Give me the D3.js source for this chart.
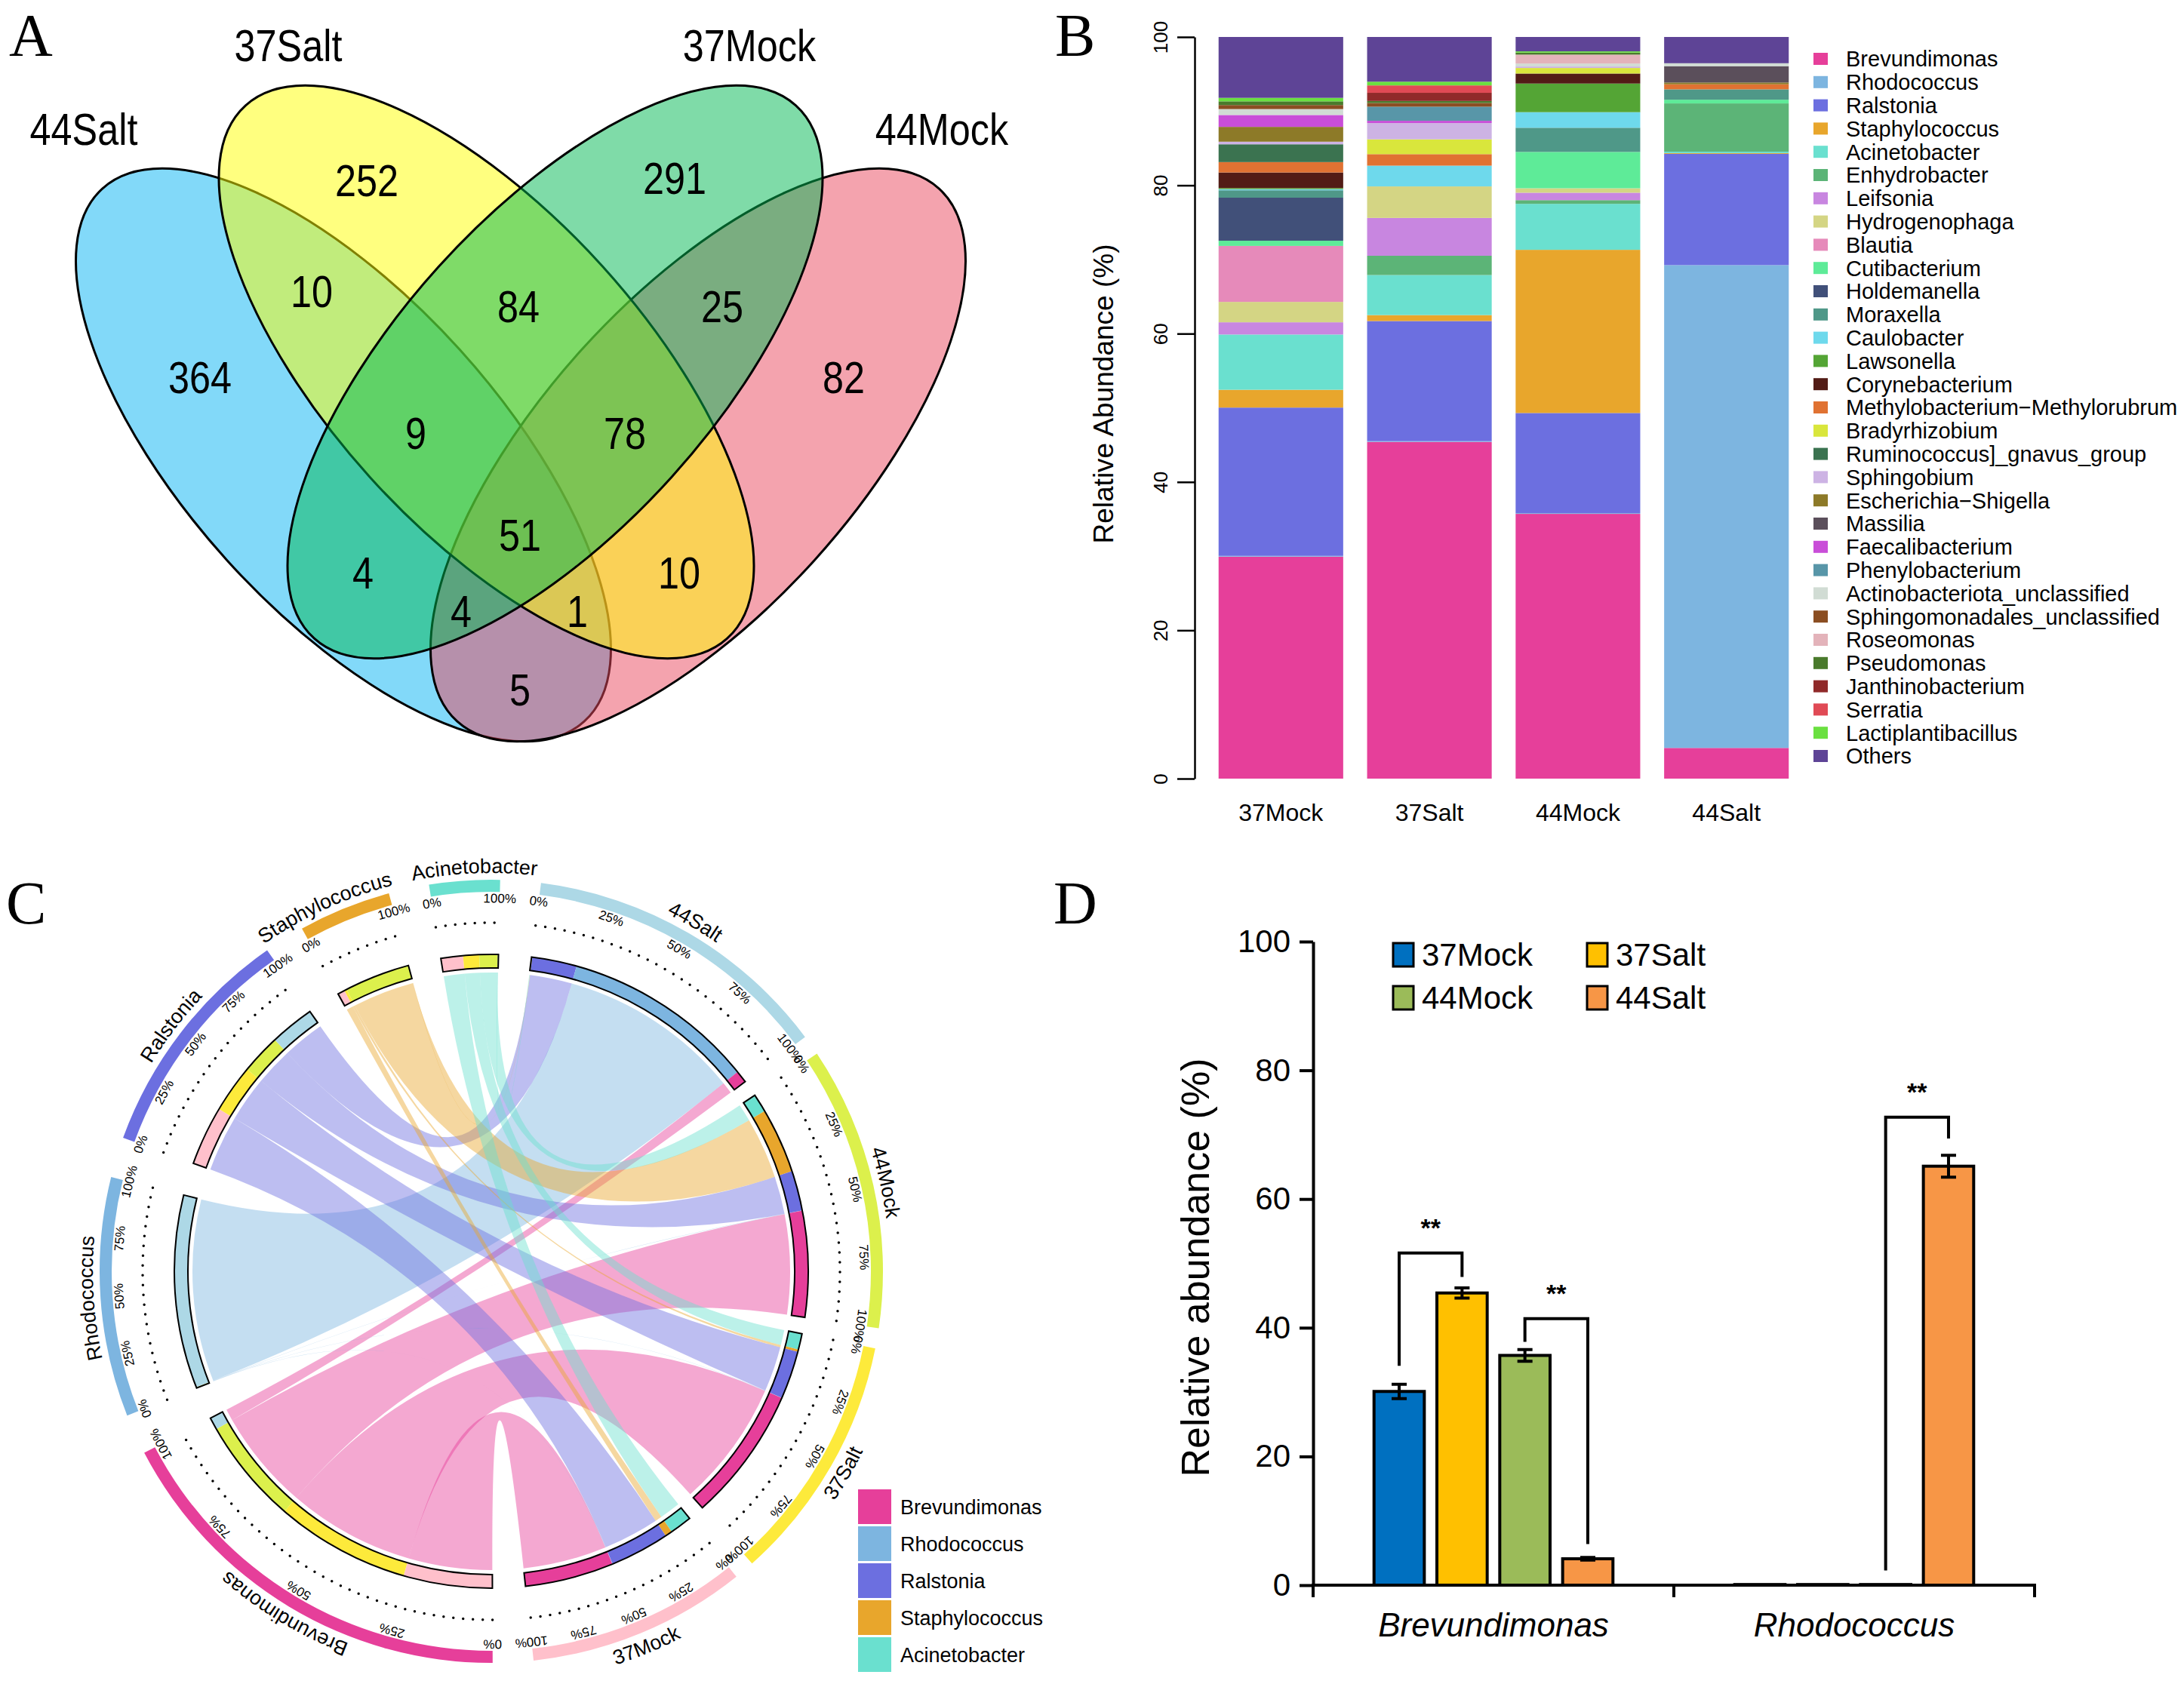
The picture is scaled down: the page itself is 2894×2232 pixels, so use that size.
<!DOCTYPE html>
<html>
<head>
<meta charset="utf-8">
<script src="https://cdn.jsdelivr.net/npm/d3@7"></script>
<style>
  body { margin: 0; background: #fff; }
  svg text { font-family: "Liberation Sans", Arial, Helvetica, sans-serif; fill: #000; }
  .plabel { font-family: "Liberation Serif", "Times New Roman", serif; font-size: 80px; }
</style>
</head>
<body>
<svg id="fig" width="2894" height="2232" viewBox="0 0 2894 2232"></svg>
<script>
// ---------- data ----------
// A: OTU venn
var vennSets = ["44Salt", "37Salt", "37Mock", "44Mock"];
var vennCounts = [252, 291, 10, 84, 25, 364, 82, 9, 78, 51, 4, 10, 4, 1, 5];

// B: relative abundance (%) per genus, bottom -> top
var samples = ["37Mock", "37Salt", "44Mock", "44Salt"];
var genera = ["Brevundimonas", "Rhodococcus", "Ralstonia", "Staphylococcus", "Acinetobacter",
  "Enhydrobacter", "Leifsonia", "Hydrogenophaga", "Blautia", "Cutibacterium", "Holdemanella",
  "Moraxella", "Caulobacter", "Lawsonella", "Corynebacterium", "Methylobacterium\u2212Methylorubrum",
  "Bradyrhizobium", "Ruminococcus]_gnavus_group", "Sphingobium", "Escherichia\u2212Shigella",
  "Massilia", "Faecalibacterium", "Phenylobacterium", "Actinobacteriota_unclassified",
  "Sphingomonadales_unclassified", "Roseomonas", "Pseudomonas", "Janthinobacterium",
  "Serratia", "Lactiplantibacillus", "Others"];
var generaColors = ["#e63f9a", "#7db5e0", "#6c6fe0", "#e8a62c", "#6ae0cf",
  "#5cb477", "#c886e0", "#d4d584", "#e68aba", "#5eeb98", "#415079",
  "#4f9888", "#6ed9ec", "#54a535", "#521c16", "#e07232",
  "#d9e63c", "#3b7350", "#cdb3e4", "#8d7a28",
  "#5b4f5b", "#c94ed8", "#5896a8", "#d1dcd4",
  "#8b4e22", "#e3b3ba", "#4a7a2c", "#902a2a",
  "#e04a55", "#6ae040", "#5e4496"];
var abund37Mock = [29.93, 0.1, 20.0, 2.4, 7.45, 0, 1.65, 2.75, 7.55, 0.7, 5.8, 1.0, 0.15, 0.15, 2.1, 1.4,
  0, 2.4, 0.35, 2.0, 0, 1.6, 0, 0.8, 0.54, 0, 0.5, 0, 0, 0.47, 8.21];
var abund37Salt = [45.4, 0.1, 16.2, 0.8, 5.4, 2.6, 5.1, 4.25, 0, 0, 0, 0, 2.8, 0, 0, 1.55,
  2.0, 0, 2.2, 0, 0, 0.3, 1.9, 0, 0.5, 0, 0.27, 1.1, 1.0, 0.5, 6.03];
var abund44Mock = [35.7, 0.1, 13.5, 22.0, 6.2, 0.5, 1.0, 0.6, 0, 4.9, 0, 3.26, 2.1, 3.86, 1.35, 0,
  0.75, 0, 0.2, 0, 0, 0, 0, 0.4, 0, 1.2, 0.27, 0, 0, 0.17, 1.94];
var abund44Salt = [4.14, 65.1, 15.0, 0.1, 0.2, 6.5, 0, 0, 0, 0.5, 0, 1.4, 0, 0, 0, 0.68,
  0, 0, 0, 0.24, 2.2, 0, 0, 0.4, 0, 0, 0, 0, 0, 0, 3.54];
var abundBySample = [abund37Mock, abund37Salt, abund44Mock, abund44Salt];

// C: chord between samples and top-5 genera
var chordSamples = ["44Salt", "44Mock", "37Salt", "37Mock"];
var chordSampleColors = ["#add8e6", "#dcf04c", "#fdea3b", "#ffc0cb"];
var chordGenera = genera.slice(0, 5);
var percentTicks = ["0%", "25%", "50%", "75%", "100%"];

// D: mean relative abundance with error
var dGenera = ["Brevundimonas", "Rhodococcus"];
var dColors = ["#0070c0", "#ffc000", "#9bbb59", "#f79646"];
var brevMean = [30.1, 45.4, 35.7, 4.1];
var brevErr = [1.1, 0.8, 0.9, 0.2];
var rhodMean = [0.1, 0.1, 0.1, 65.1];
var rhodErr = [0, 0, 0, 1.7];
var sigGroup = [0, 0, 1];
var sigFrom = [0, 2, 2];
var sigTo = [1, 3, 3];
var sigTop = [51.6, 41.4, 72.7];
var sigFromEnd = [34.1, 37.8, 2.3];
var sigToEnd = [47.9, 6.4, 69.4];

var svg = d3.select("#fig");
svg.append("rect").attr("width", 2894).attr("height", 2232).attr("fill", "#fff");

// panel letters
[["A", 12, 74], ["B", 1398, 74], ["C", 8, 1224], ["D", 1396, 1224]].forEach(function (p) {
  svg.append("text").attr("class", "plabel").attr("x", p[1]).attr("y", p[2]).text(p[0]);
});

// ---------- A: venn ----------
var gA = svg.append("g");
var xV = d3.scaleLinear().domain([-60, 60]).range([90, 1290]);
var yV = d3.scaleLinear().domain([-45, 45]).range([100, 1000]);
var kV = xV(1) - xV(0);
var vennEllipses = [
  {cx: -23.5, cy: 5.3, a: 47.6, b: 20.8, rot: 47.9, fill: "#05b3f3"},   // 44Salt
  {cx: 23.5, cy: 5.3, a: 47.6, b: 20.8, rot: -47.9, fill: "#e9475d"},   // 44Mock
  {cx: -4.55, cy: -5.7, a: 47.6, b: 20.8, rot: 47.9, fill: "#ffff00"},  // 37Salt
  {cx: 4.55, cy: -5.7, a: 47.6, b: 20.8, rot: -47.9, fill: "#00b751"}   // 37Mock
];
vennEllipses.forEach(function (e) {
  var px = xV(e.cx), py = yV(e.cy);
  gA.append("ellipse")
    .attr("cx", px).attr("cy", py)
    .attr("rx", e.a * kV).attr("ry", e.b * kV)
    .attr("transform", "rotate(" + e.rot + " " + px + " " + py + ")")
    .attr("fill", e.fill).attr("fill-opacity", 0.5)
    .attr("stroke", "#000").attr("stroke-width", 3);
});
// condensed text, like the original's narrow face
function narrowText(g, x, y, s, size) {
  g.append("text")
    .attr("transform", "translate(" + x + "," + y + ") scale(0.84,1)")
    .attr("dy", "0.36em").attr("text-anchor", "middle")
    .style("font-size", size + "px").text(s);
}
var vennSetPos = [[-57.9, -38], [-30.8, -49.1], [30.3, -49.1], [55.8, -38]];
vennSets.forEach(function (s, i) {
  narrowText(gA, xV(vennSetPos[i][0]), yV(vennSetPos[i][1]), s, 60);
});
var vennCountPos = [[-20.4, -31.2], [20.4, -31.5], [-27.7, -16.5], [-0.3, -14.5], [26.7, -14.5],
  [-42.5, -5.1], [42.8, -5.1], [-13.9, 2.3], [13.8, 2.3], [-0.1, 15.8], [-20.9, 20.8],
  [21, 20.8], [-7.9, 25.9], [7.5, 25.9], [-0.1, 36.3]];
vennCounts.forEach(function (c, i) {
  narrowText(gA, xV(vennCountPos[i][0]), yV(vennCountPos[i][1]), c, 60);
});

// ---------- B: stacked bars ----------
var gB = svg.append("g");
var xB = d3.scaleBand().domain(samples).range([1599, 2386]).paddingInner(0.161).paddingOuter(0.08);
var yB = d3.scaleLinear().domain([0, 100]).range([1032, 49]);
var tableB = samples.map(function (s, i) {
  var row = {sample: s};
  genera.forEach(function (g, j) { row[g] = abundBySample[i][j]; });
  return row;
});
var stackB = d3.stack().keys(genera)(tableB);
gB.selectAll("g.layer")
  .data(stackB)
  .enter().append("g")
    .attr("fill", function (d, i) { return generaColors[i]; })
  .selectAll("rect")
  .data(function (d) { return d; })
  .enter().append("rect")
    .attr("x", function (d) { return xB(d.data.sample); })
    .attr("y", function (d) { return yB(d[1]); })
    .attr("width", xB.bandwidth())
    .attr("height", function (d) { return Math.max(0, yB(d[0]) - yB(d[1])); });

var axB = gB.append("g").attr("transform", "translate(1583,0)")
  .call(d3.axisLeft(yB).tickValues([0, 20, 40, 60, 80, 100]).tickSize(23).tickSizeOuter(0));
axB.select(".domain").attr("stroke-width", 2.5);
axB.selectAll(".tick line").attr("stroke-width", 2.5);
axB.selectAll(".tick text")
  .attr("x", null).attr("dy", null)
  .attr("transform", "translate(-45,0) rotate(-90)")
  .attr("text-anchor", "middle").attr("dominant-baseline", "central")
  .style("font-size", "26px").style("font-family", "Liberation Sans, Arial, sans-serif");

samples.forEach(function (s) {
  gB.append("text").attr("x", xB(s) + xB.bandwidth() / 2).attr("y", 1088)
    .attr("text-anchor", "middle").style("font-size", "32px").text(s);
});
gB.append("text").attr("transform", "translate(1462,522) rotate(-90)")
  .attr("text-anchor", "middle").attr("dominant-baseline", "central")
  .style("font-size", "37px").text("Relative Abundance (%)");

var legB = gB.append("g");
genera.forEach(function (g, i) {
  var yy = 78 + i * 30.8;
  legB.append("rect").attr("x", 2403).attr("y", yy - 8).attr("width", 19).attr("height", 16)
    .attr("fill", generaColors[i]);
  legB.append("text").attr("x", 2446).attr("y", yy).attr("dy", "0.36em")
    .style("font-size", "29px").text(g);
});

// ---------- C: chord ----------
var gC = svg.append("g").attr("transform", "translate(651,1685)");
var defs = svg.append("defs");
function abund(sample, genus) {
  return abundBySample[samples.indexOf(sample)][genera.indexOf(genus)];
}
var rad = Math.PI / 180;
var sectorNames = chordSamples.concat(chordGenera);
var sectorColors = chordSampleColors.concat(generaColors.slice(0, 5));
var sectorPartners = sectorNames.map(function (n, i) {
  return i < 4 ? chordGenera.slice().reverse() : chordSamples.slice().reverse();
});
var sectorTotals = sectorNames.map(function (n, i) {
  return d3.sum(sectorPartners[i], function (p) { return i < 4 ? abund(n, p) : abund(p, n); });
});
var gapDeg = [3, 3, 3, 6, 6, 6, 6, 6, 6];
var nameShift = [0, 0, 0, 0, 0, 0, 0, -2.5, 1.5];   // keep the two short sector names apart
var unitDeg = (360 - d3.sum(gapDeg)) / d3.sum(sectorTotals);
var sectors = [];
var linkPos = {};
var cur = 7.3;
sectorNames.forEach(function (n, i) {
  var a0 = cur, a1 = cur + sectorTotals[i] * unitDeg;
  sectors.push({name: n, a0: a0 * rad, a1: a1 * rad, color: sectorColors[i], idx: i});
  linkPos[n] = {};
  var c = a0;
  sectorPartners[i].forEach(function (p) {
    var v = i < 4 ? abund(n, p) : abund(p, n);
    linkPos[n][p] = {a0: c * rad, a1: (c + v * unitDeg) * rad,
      color: i < 4 ? generaColors[genera.indexOf(p)] : chordSampleColors[chordSamples.indexOf(p)]};
    c += v * unitDeg;
  });
  cur = a1 + gapDeg[i];
});

// links
var ribbon = d3.ribbon().radius(396);
chordSamples.forEach(function (s) {
  chordGenera.forEach(function (g) {
    var sp = linkPos[s][g], tp = linkPos[g][s];
    gC.append("path")
      .attr("d", ribbon({source: {startAngle: sp.a0, endAngle: sp.a1},
                         target: {startAngle: tp.a0, endAngle: tp.a1}}))
      .attr("fill", generaColors[genera.indexOf(g)]).attr("fill-opacity", 0.45);
  });
});

// inner composition bars
var barArc = d3.arc().innerRadius(402).outerRadius(420);
sectors.forEach(function (sec) {
  sectorPartners[sec.idx].forEach(function (p) {
    var lp = linkPos[sec.name][p];
    if (lp.a1 - lp.a0 <= 0) return;
    gC.append("path").attr("d", barArc({startAngle: lp.a0, endAngle: lp.a1})).attr("fill", lp.color);
  });
  gC.append("path").attr("d", barArc({startAngle: sec.a0, endAngle: sec.a1}))
    .attr("fill", "none").attr("stroke", "#000").attr("stroke-width", 2);
});

// outer tracks, dotted guides, percent labels, names
var trackArc = d3.arc().innerRadius(503).outerRadius(519);
function arcPath(r, a0, a1, ccw) {
  var x0 = r * Math.sin(a0), y0 = -r * Math.cos(a0);
  var x1 = r * Math.sin(a1), y1 = -r * Math.cos(a1);
  var large = (a1 - a0) > Math.PI ? 1 : 0;
  if (ccw) return "M" + x1 + "," + y1 + "A" + r + "," + r + " 0 " + large + " 0 " + x0 + "," + y0;
  return "M" + x0 + "," + y0 + "A" + r + "," + r + " 0 " + large + " 1 " + x1 + "," + y1;
}
var flipped = ["37Salt", "37Mock"];
sectors.forEach(function (sec, i) {
  gC.append("path").attr("d", trackArc({startAngle: sec.a0, endAngle: sec.a1})).attr("fill", sec.color);
  gC.append("path").attr("d", arcPath(462, sec.a0, sec.a1, false))
    .attr("fill", "none").attr("stroke", "#000").attr("stroke-width", 3.5)
    .attr("stroke-linecap", "round").attr("stroke-dasharray", "0,13");
  var small = (sec.a1 - sec.a0) < 20 * rad;
  percentTicks.forEach(function (t, k) {
    if (small && k > 0 && k < 4) return;
    var a = sec.a0 + (sec.a1 - sec.a0) * k / 4;
    gC.append("text")
      .attr("transform", "translate(" + (494 * Math.sin(a)) + "," + (-494 * Math.cos(a)) + ") rotate(" + (a / rad) + ")")
      .attr("text-anchor", "middle").attr("dominant-baseline", "central")
      .style("font-size", "17px").text(t);
  });
  var mid = (sec.a0 + sec.a1) / 2 + nameShift[i] * rad;
  var flip = flipped.indexOf(sec.name) >= 0;
  var pid = "namearc" + i;
  defs.append("path").attr("id", pid)
    .attr("d", arcPath(flip ? 547 : 528, mid - 45 * rad, mid + 45 * rad, flip))
    .attr("transform", "translate(651,1685)");
  svg.append("text").style("font-size", "27px")
    .append("textPath").attr("href", "#" + pid).attr("startOffset", "50%")
    .attr("text-anchor", "middle").text(sec.name);
});

// legend C
chordGenera.forEach(function (g, i) {
  var yy = 1997 + i * 49;
  svg.append("rect").attr("x", 1137).attr("y", yy - 23).attr("width", 44).attr("height", 46)
    .attr("fill", generaColors[i]);
  svg.append("text").attr("x", 1193).attr("y", yy).attr("dy", "0.36em")
    .style("font-size", "27px").text(g);
});

// ---------- D: grouped bars ----------
var gD = svg.append("g");
var x0D = d3.scaleBand().domain(dGenera).range([1740, 2696]);
var x1D = d3.scaleBand().domain(samples).range([80.7, 397.3]).paddingInner(0.2);
var yD = d3.scaleLinear().domain([0, 100]).range([2101, 1248]);
var dMeans = [brevMean, rhodMean], dErrs = [brevErr, rhodErr];
dGenera.forEach(function (g, gi) {
  samples.forEach(function (s, si) {
    var m = dMeans[gi][si], e = dErrs[gi][si];
    var bx = x0D(g) + x1D(s), bw = x1D.bandwidth();
    gD.append("rect").attr("x", bx).attr("y", yD(m)).attr("width", bw)
      .attr("height", Math.max(0.5, yD(0) - yD(m)))
      .attr("fill", dColors[si]).attr("stroke", "#000").attr("stroke-width", 4);
    if (e > 0) {
      var cxm = bx + bw / 2;
      gD.append("path")
        .attr("d", "M" + cxm + "," + yD(m - e) + "V" + yD(m + e) +
          "M" + (cxm - 10) + "," + yD(m + e) + "H" + (cxm + 10) +
          "M" + (cxm - 10) + "," + yD(m - e) + "H" + (cxm + 10))
        .attr("stroke", "#000").attr("stroke-width", 4).attr("fill", "none");
    }
  });
  gD.append("text").attr("x", x0D(g) + x0D.bandwidth() / 2).attr("y", 2169)
    .attr("text-anchor", "middle").style("font-size", "44px").style("font-style", "italic").text(g);
});
sigGroup.forEach(function (gi, k) {
  var xa = x0D(dGenera[gi]) + x1D(samples[sigFrom[k]]) + x1D.bandwidth() / 2;
  var xb = x0D(dGenera[gi]) + x1D(samples[sigTo[k]]) + x1D.bandwidth() / 2;
  gD.append("path")
    .attr("d", "M" + xa + "," + yD(sigFromEnd[k]) + "V" + yD(sigTop[k]) + "H" + xb + "V" + yD(sigToEnd[k]))
    .attr("fill", "none").attr("stroke", "#000").attr("stroke-width", 4);
  gD.append("text").attr("x", (xa + xb) / 2).attr("y", yD(sigTop[k] + 4.6)).attr("dy", "0.5em")
    .attr("text-anchor", "middle").style("font-size", "34px").style("font-weight", "bold").text("**");
});
var axD = gD.append("g").attr("transform", "translate(1740,0)")
  .call(d3.axisLeft(yD).tickValues([0, 20, 40, 60, 80, 100]).tickSize(18).tickSizeOuter(0).tickPadding(12));
axD.select(".domain").attr("stroke-width", 4);
axD.selectAll(".tick line").attr("stroke-width", 4);
axD.selectAll(".tick text").style("font-size", "42px").style("font-family", "Liberation Sans, Arial, sans-serif");
gD.append("path")
  .attr("d", "M1738,2101H2698" + dGenera.map(function (g) { return "M" + x0D(g) + ",2101v16"; }).join("") +
    "M" + x0D.range()[1] + ",2101v16")
  .attr("stroke", "#000").attr("stroke-width", 4).attr("fill", "none");
gD.append("text").attr("transform", "translate(1584,1680) rotate(-90)")
  .attr("text-anchor", "middle").attr("dominant-baseline", "central")
  .style("font-size", "52px").text("Relative abundance (%)");
var legDx = [1846, 2103], legDy = [1265, 1322];
samples.forEach(function (s, i) {
  var lx = legDx[i % 2], ly = legDy[Math.floor(i / 2)];
  gD.append("rect").attr("x", lx).attr("y", ly - 15).attr("width", 27).attr("height", 31)
    .attr("fill", dColors[i]).attr("stroke", "#000").attr("stroke-width", 3);
  gD.append("text").attr("x", lx + 38).attr("y", ly).attr("dy", "0.36em")
    .style("font-size", "42px").text(s);
});
</script>
</body>
</html>
